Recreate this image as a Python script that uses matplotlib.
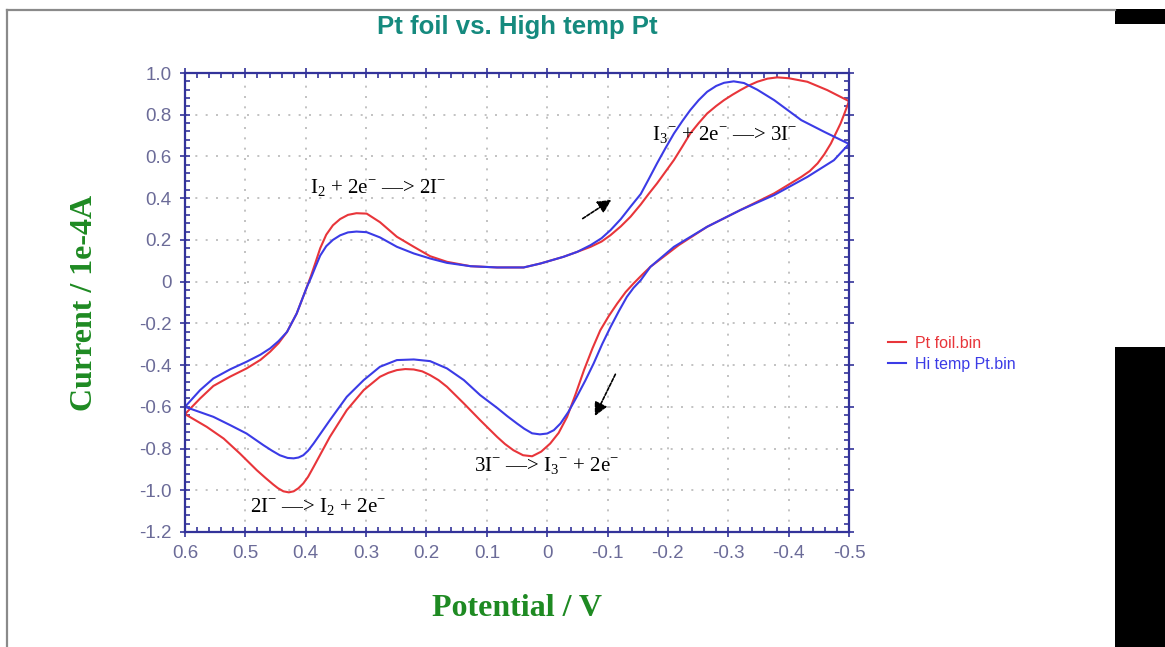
import matplotlib
matplotlib.use("Agg")
import matplotlib.pyplot as plt
from matplotlib.patches import Rectangle
from matplotlib.lines import Line2D
from matplotlib.ticker import MultipleLocator, FuncFormatter

# ---------------- data (potential in V, current in 1e-4 A) ----------------
# Pt foil: forward sweep 0.6 -> -0.5
foil_fwd_E = [0.600, 0.575, 0.553, 0.525, 0.498, 0.475, 0.459, 0.445, 0.431, 0.415,
              0.398, 0.391, 0.384, 0.376, 0.366, 0.355, 0.343, 0.330, 0.316, 0.299,
              0.277, 0.249, 0.221, 0.194, 0.166, 0.127, 0.083, 0.039, 0.011, -0.027,
              -0.050, -0.072, -0.090, -0.105, -0.122, -0.138, -0.155, -0.168, -0.182,
              -0.196, -0.210, -0.224, -0.237, -0.251, -0.265, -0.280, -0.293, -0.307,
              -0.320, -0.334, -0.348, -0.365, -0.381, -0.400, -0.431, -0.464, -0.500]
foil_fwd_I = [-0.635, -0.560, -0.500, -0.455, -0.416, -0.375, -0.336, -0.295, -0.241, -0.153,
              -0.025, 0.030, 0.090, 0.160, 0.225, 0.270, 0.300, 0.320, 0.328, 0.326,
              0.285, 0.215, 0.167, 0.122, 0.095, 0.074, 0.068, 0.068, 0.087, 0.119,
              0.143, 0.167, 0.192, 0.223, 0.265, 0.311, 0.370, 0.420, 0.471,
              0.527, 0.583, 0.648, 0.710, 0.760, 0.806, 0.842, 0.870, 0.896,
              0.918, 0.940, 0.958, 0.973, 0.979, 0.975, 0.958, 0.918, 0.865]
# Pt foil: reverse sweep -0.5 -> 0.6
foil_rev_E = [-0.500, -0.493, -0.486, -0.478, -0.470, -0.459, -0.448, -0.435, -0.421,
              -0.376, -0.320, -0.265, -0.218, -0.171, -0.157, -0.143, -0.130, -0.116,
              -0.102, -0.088, -0.075, -0.061, -0.047, -0.033, -0.019, -0.005, 0.010,
              0.025, 0.040, 0.056, 0.070, 0.083, 0.111, 0.138, 0.166, 0.180, 0.194,
              0.207, 0.221, 0.235, 0.249, 0.263, 0.277, 0.304, 0.332, 0.360, 0.387,
              0.396, 0.404, 0.412, 0.420, 0.428, 0.437, 0.446, 0.454, 0.467, 0.481,
              0.509, 0.536, 0.564, 0.600]
foil_rev_I = [0.865, 0.810, 0.758, 0.710, 0.662, 0.610, 0.567, 0.530, 0.502,
              0.423, 0.343, 0.263, 0.175, 0.071, 0.032, -0.009, -0.050, -0.105,
              -0.165, -0.233, -0.320, -0.424, -0.540, -0.648, -0.725, -0.776, -0.815,
              -0.837, -0.832, -0.808, -0.778, -0.744, -0.664, -0.584, -0.504, -0.472, -0.448,
              -0.430, -0.421, -0.419, -0.424, -0.437, -0.456, -0.520, -0.616, -0.744, -0.888,
              -0.935, -0.967, -0.990, -1.005, -1.010, -1.005, -0.990, -0.972, -0.940, -0.904,
              -0.824, -0.752, -0.696, -0.635]

# Hi temp Pt: forward sweep 0.6 -> -0.5
hot_fwd_E = [0.600, 0.575, 0.553, 0.525, 0.498, 0.475, 0.459, 0.445, 0.431, 0.415,
             0.398, 0.391, 0.384, 0.376, 0.366, 0.355, 0.343, 0.330, 0.316, 0.299,
             0.277, 0.249, 0.221, 0.194, 0.166, 0.127, 0.083, 0.039, 0.011, -0.027,
             -0.050, -0.072, -0.090, -0.105, -0.122, -0.138, -0.155, -0.168, -0.182,
             -0.196, -0.210, -0.224, -0.237, -0.251, -0.265, -0.280, -0.293, -0.309,
             -0.326, -0.348, -0.376, -0.421, -0.459, -0.500]
hot_fwd_I = [-0.600, -0.520, -0.464, -0.420, -0.384, -0.350, -0.320, -0.285, -0.241, -0.153,
             -0.025, 0.020, 0.070, 0.125, 0.170, 0.200, 0.222, 0.236, 0.240, 0.237,
             0.212, 0.167, 0.135, 0.111, 0.090, 0.074, 0.068, 0.068, 0.087, 0.119,
             0.143, 0.175, 0.208, 0.247, 0.300, 0.359, 0.420, 0.490, 0.567,
             0.640, 0.710, 0.770, 0.822, 0.870, 0.910, 0.938, 0.953, 0.960,
             0.952, 0.920, 0.870, 0.774, 0.718, 0.660]
# Hi temp Pt: reverse sweep -0.5 -> 0.6
hot_rev_E = [-0.500, -0.475, -0.431, -0.376, -0.320, -0.265, -0.210, -0.171, -0.155,
             -0.143, -0.132, -0.119, -0.105, -0.091, -0.077, -0.063, -0.049, -0.035,
             -0.022, -0.011, 0.000, 0.012, 0.025, 0.038, 0.050, 0.066, 0.083, 0.111,
             0.138, 0.166, 0.194, 0.221, 0.249, 0.277, 0.304, 0.332, 0.360, 0.387,
             0.396, 0.404, 0.412, 0.420, 0.430, 0.443, 0.456, 0.470, 0.498, 0.525,
             0.553, 0.600]
hot_rev_I = [0.660, 0.582, 0.502, 0.415, 0.343, 0.263, 0.167, 0.071, 0.007,
             -0.030, -0.073, -0.140, -0.217, -0.300, -0.392, -0.475, -0.552, -0.625,
             -0.680, -0.712, -0.728, -0.732, -0.727, -0.705, -0.680, -0.645, -0.605, -0.544,
             -0.472, -0.416, -0.381, -0.373, -0.376, -0.408, -0.472, -0.552, -0.664, -0.776,
             -0.810, -0.832, -0.843, -0.847, -0.845, -0.832, -0.810, -0.784, -0.728, -0.688,
             -0.648, -0.600]

series_labels = ["Pt foil.bin", "Hi temp Pt.bin"]
title_text = "Pt foil vs. High temp Pt"
xlabel_text = "Potential / V"
ylabel_text = "Current / 1e-4A"
annotations = [
    (r"I$_\mathregular{2}$ + 2e$^\mathregular{-}$ —> 2I$^\mathregular{-}$", 0.393, 0.45),
    (r"I$_\mathregular{3}$$^\mathregular{-}$ + 2e$^\mathregular{-}$ —> 3I$^\mathregular{-}$", -0.174, 0.70),
    (r"3I$^\mathregular{-}$ —> I$_\mathregular{3}$$^\mathregular{-}$ + 2e$^\mathregular{-}$", 0.121, -0.884),
    (r"2I$^\mathregular{-}$ —> I$_\mathregular{2}$ + 2e$^\mathregular{-}$", 0.492, -1.081),
]
arrows = [((-0.055, 0.295), (-0.110, 0.399)),
          ((-0.115, -0.432), (-0.077, -0.656))]

# ---------------- styling ----------------
RED = "#e8353a"
BLUE = "#3b3be6"
SPINE = "#33339a"
TICKLAB = "#6b6b98"
TITLE_C = "#158a7e"
LABEL_C = "#1e8a22"

plt.rcParams["mathtext.fontset"] = "custom"
plt.rcParams["mathtext.rm"] = "Liberation Serif"

W, H, DPI = 1165, 647, 100
fig = plt.figure(figsize=(W / DPI, H / DPI), dpi=DPI, facecolor="white")

x0, x1 = 185, 849
y0, y1 = 73, 532
ax = fig.add_axes([x0 / W, 1 - y1 / H, (x1 - x0) / W, (y1 - y0) / H])

ax.plot(foil_fwd_E, foil_fwd_I, color=RED, lw=1.5, label=series_labels[0])
ax.plot(foil_rev_E, foil_rev_I, color=RED, lw=1.5)
ax.plot(hot_fwd_E, hot_fwd_I, color=BLUE, lw=1.5, label=series_labels[1])
ax.plot(hot_rev_E, hot_rev_I, color=BLUE, lw=1.5)

ax.set_xlim(0.6, -0.5)
ax.set_ylim(-1.2, 1.0)
ax.xaxis.set_major_locator(MultipleLocator(0.1))
ax.xaxis.set_minor_locator(MultipleLocator(0.02))
ax.yaxis.set_major_locator(MultipleLocator(0.2))
ax.yaxis.set_minor_locator(MultipleLocator(0.04))


def fmt(v, pos):
    if abs(v) < 1e-9:
        return "0"
    return f"{v:.1f}"


ax.xaxis.set_major_formatter(FuncFormatter(fmt))
ax.yaxis.set_major_formatter(FuncFormatter(fmt))

for sp in ax.spines.values():
    sp.set_color(SPINE)
    sp.set_linewidth(1.6)

ax.tick_params(which="major", direction="inout", length=7, width=1.2, color=SPINE,
               top=True, right=True, labelsize=13.5, labelcolor=TICKLAB, pad=6)
ax.tick_params(which="minor", direction="in", length=3.5, width=1.2, color=SPINE,
               top=True, right=True)
for lab in ax.get_xticklabels() + ax.get_yticklabels():
    lab.set_family(["Liberation Sans", "DejaVu Sans"])

ax.grid(True, which="major", color="#b8b8b8", linestyle=(0, (1.2, 5)), linewidth=1.2)

ax.set_title(title_text, color=TITLE_C, fontsize=18.5, fontweight="bold",
             family=["Liberation Sans", "DejaVu Sans"], y=1 + (y0 - 27) / (y1 - y0),
             pad=0, va="center")
ax.set_xlabel(xlabel_text, color=LABEL_C, fontsize=23, fontweight="bold",
              family=["Liberation Serif", "DejaVu Serif"], va="center")
ax.xaxis.set_label_coords(0.5, (y1 - 608) / (y1 - y0))
ax.set_ylabel(ylabel_text, color=LABEL_C, fontsize=23, fontweight="bold",
              family=["Liberation Serif", "DejaVu Serif"], va="center")
ax.yaxis.set_label_coords((85 - x0) / (x1 - x0), 0.5)

for txt, xv, yv in annotations:
    ax.text(xv, yv, txt, fontsize=15, color="black", ha="left", va="center",
            family=["Liberation Serif", "DejaVu Serif"])

for (tail, tip) in arrows:
    ax.annotate("", xy=tip, xytext=tail,
                arrowprops=dict(arrowstyle="-|>", color="black", lw=1.2,
                                linestyle=(0, (2, 1)), mutation_scale=20))

leg = ax.legend(loc="upper left", bbox_to_anchor=(888 / W, 1 - 336 / H),
                bbox_transform=fig.transFigure, frameon=False,
                handlelength=1.1, handletextpad=0.6, borderpad=0, borderaxespad=0,
                labelspacing=0.35, prop={"family": ["Liberation Sans", "DejaVu Sans"], "size": 11.5})
for t, c in zip(leg.get_texts(), [RED, BLUE]):
    t.set_color(c)

# page frame and black blocks
fig.add_artist(Line2D([7 / W, 7 / W], [0, 1 - 10 / H], transform=fig.transFigure,
                      color="#8a8a8a", lw=1.6))
fig.add_artist(Line2D([7 / W, 1115 / W], [1 - 10 / H, 1 - 10 / H], transform=fig.transFigure,
                      color="#8a8a8a", lw=1.6))
fig.add_artist(Rectangle((1115 / W, 1 - 24 / H), 50 / W, 15 / H, transform=fig.transFigure,
                         color="black", lw=0))
fig.add_artist(Rectangle((1115 / W, 0), 50 / W, 1 - 347 / H, transform=fig.transFigure,
                         color="black", lw=0))

fig.savefig("out.png", dpi=DPI, facecolor="white")
